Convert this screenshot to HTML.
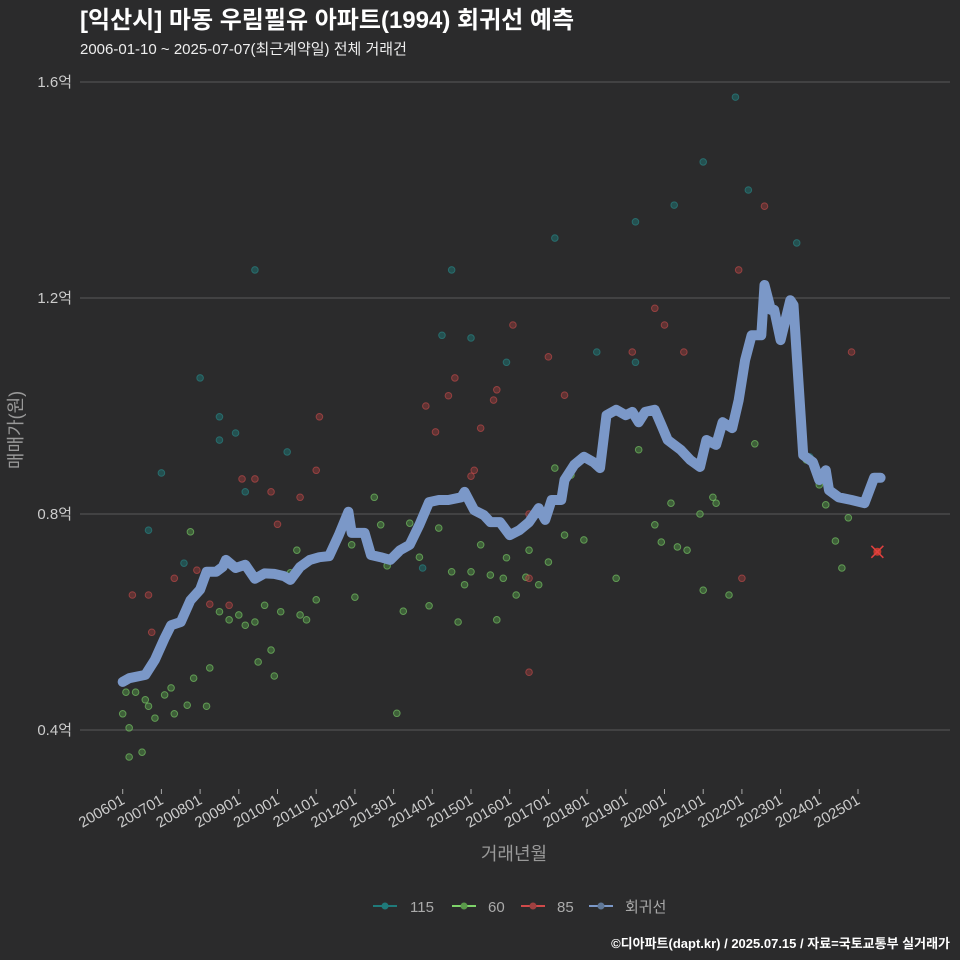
<!DOCTYPE html>
<html><head><meta charset="utf-8"><style>
html,body{margin:0;padding:0;width:960px;height:960px;overflow:hidden;background:#2b2b2c;font-family:"Liberation Sans","Noto Sans CJK KR",sans-serif;}
svg{display:block;}
svg text{font-family:"Liberation Sans","Noto Sans CJK KR",sans-serif;}
</style></head><body>
<svg id="c" width="960" height="960">
<rect width="960" height="960" fill="#2b2b2c"/>
<text x="80" y="28" font-size="24" font-weight="bold" fill="#fff">[익산시] 마동 우림필유 아파트(1994) 회귀선 예측</text>
<text x="80" y="54" font-size="15" fill="#eee">2006-01-10 ~ 2025-07-07(최근계약일) 전체 거래건</text>
<g id="grid"></g><g id="pts"></g><g id="line"></g><g id="axes"></g>
<text transform="translate(22,430) rotate(-90)" text-anchor="middle" font-size="18" fill="#999">매매가(원)</text>
<text x="514" y="860" text-anchor="middle" font-size="18" fill="#999">거래년월</text>
<g font-size="15" fill="#aaa">
<g><line x1="373" y1="906" x2="397" y2="906" stroke="#1f7a7a" stroke-width="2"/><circle cx="385" cy="906" r="3.5" fill="#1f7a7a"/><text x="410" y="912">115</text></g>
<g><line x1="452" y1="906" x2="476" y2="906" stroke="#7ed36a" stroke-width="2"/><circle cx="464" cy="906" r="3.5" fill="#5a9a4a"/><text x="488" y="912">60</text></g>
<g><line x1="521" y1="906" x2="545" y2="906" stroke="#d04a4a" stroke-width="2"/><circle cx="533" cy="906" r="3.5" fill="#a04040"/><text x="557" y="912">85</text></g>
<g><line x1="589" y1="906" x2="613" y2="906" stroke="#7b98c8" stroke-width="2"/><circle cx="601" cy="906" r="3.5" fill="#607898"/><text x="625" y="912">회귀선</text></g>
</g>
<text x="950" y="948" text-anchor="end" font-size="13" font-weight="bold" fill="#fff">©디아파트(dapt.kr) / 2025.07.15 / 자료=국토교통부 실거래가</text>
</svg>
<script>
// month index since 2006-01, value in 억
const yTicks=[0.4,0.8,1.2,1.6];
const xTickLabels=['200601','200701','200801','200901','201001','201101','201201','201301','201401','201501','201601','201701','201801','201901','202001','202101','202201','202301','202401','202501'];
const s115M=[8,12,19,24,30,30,35,38,41,51,93,99,102,108,119,134,147,159,159,171,180,190,194,209,213];
const s115V=[0.770,0.876,0.709,1.052,0.980,0.937,0.950,0.841,1.252,0.915,0.700,1.131,1.252,1.126,1.081,1.311,1.100,1.081,1.341,1.372,1.452,1.572,1.400,1.302,0.906];
const s60M=[0,1,2,2,4,6,7,8,10,13,15,16,20,21,22,26,27,30,33,36,38,41,42,44,46,47,49,52,54,55,57,60,71,72,78,80,82,85,87,89,92,95,98,102,104,106,108,111,114,116,118,119,122,125,126,129,132,134,137,139,143,149,153,160,165,167,170,172,175,179,180,183,184,188,196,212,216,218,221,223,225];
const s60V=[0.430,0.470,0.404,0.350,0.470,0.359,0.456,0.444,0.422,0.465,0.478,0.430,0.446,0.767,0.496,0.444,0.515,0.619,0.604,0.613,0.594,0.600,0.526,0.631,0.548,0.500,0.619,0.691,0.733,0.613,0.604,0.641,0.743,0.646,0.831,0.780,0.704,0.431,0.620,0.783,0.720,0.630,0.774,0.693,0.600,0.669,0.693,0.743,0.687,0.604,0.681,0.719,0.650,0.683,0.733,0.669,0.711,0.885,0.761,0.872,0.752,0.931,0.681,0.919,0.780,0.748,0.820,0.739,0.733,0.800,0.659,0.831,0.820,0.650,0.930,0.900,0.854,0.817,0.750,0.700,0.793];
const s85M=[3,8,9,16,23,27,33,37,41,46,48,55,60,61,94,97,101,103,108,109,111,115,116,121,126,126,126,132,137,158,165,168,174,192,191,199,226];
const s85V=[0.650,0.650,0.581,0.681,0.696,0.633,0.631,0.865,0.865,0.841,0.781,0.831,0.881,0.980,1.000,0.952,1.019,1.052,0.870,0.881,0.959,1.011,1.030,1.150,0.800,0.681,0.507,1.091,1.020,1.100,1.181,1.150,1.100,0.681,1.252,1.370,1.100];
const regM=[0,2,7,10,13,15,18,21,24,26,29,31,32,35,38,41,44,47,50,52,55,58,61,64,67,70,71,75,77,80,83,86,89,92,95,98,101,105,106,109,112,114,117,120,123,126,129,131,133,136,137,140,143,146,148,150,153,156,158,160,162,165,167,169,173,176,179,181,184,186,189,191,193,195,198,199,201,202,204,207,208,211,214,216,218,219,222,226,230,233,235];
const regV=[0.489,0.496,0.502,0.53,0.57,0.594,0.6,0.64,0.66,0.693,0.693,0.702,0.715,0.70,0.706,0.68,0.69,0.689,0.685,0.678,0.702,0.715,0.72,0.722,0.761,0.804,0.765,0.765,0.724,0.72,0.715,0.733,0.743,0.78,0.822,0.826,0.826,0.831,0.841,0.807,0.798,0.785,0.785,0.761,0.77,0.785,0.811,0.789,0.826,0.826,0.863,0.891,0.906,0.896,0.885,0.983,0.993,0.983,0.989,0.970,0.989,0.993,0.965,0.937,0.919,0.9,0.887,0.937,0.928,0.970,0.959,1.011,1.085,1.131,1.131,1.224,1.178,1.178,1.122,1.196,1.187,0.909,0.896,0.863,0.881,0.844,0.831,0.826,0.820,0.867,0.867];
const lastM=[234], lastV=[0.730];

const NS='http://www.w3.org/2000/svg';
const X=m=>122.7+m*38.7/12;
const Y=v=>514-(v-0.8)*540;
function mk(tag,attrs,parent){const e=document.createElementNS(NS,tag);for(const k in attrs)e.setAttribute(k,attrs[k]);document.getElementById(parent).appendChild(e);return e;}
yTicks.forEach(t=>{
  const l=mk('line',{x1:80,x2:950,y1:Y(t),y2:Y(t),stroke:'#5a5a5a','stroke-width':1},'grid');
  
  
  const tx=mk('text',{x:72,y:Y(t)+5,'text-anchor':'end','font-size':15,fill:'#ccc'},'axes');
  tx.textContent=t.toFixed(1)+'억';
  
  
});
xTickLabels.forEach((lab,i)=>{
  const x=X(i*12);
  const tk=mk('line',{x1:x,x2:x,y1:789,y2:794,stroke:'#aaa'},'axes');
  
  
  const tx=mk('text',{x:x+3,y:803,'text-anchor':'end','font-size':15,fill:'#ccc',transform:`rotate(-30 ${x+3} 803)`},'axes');
  tx.textContent=lab;
  
  
});
function scatter(M,V,fill,stroke,name){
  M.forEach((m,i)=>{
    const c=mk('circle',{cx:X(m),cy:Y(V[i]),r:3.3,fill:fill,'fill-opacity':0.55,stroke:stroke,'stroke-opacity':0.6,'stroke-width':1},'pts');
    
    
  });
}
scatter(s115M,s115V,'#1f6f6f','#2a8a8a','point-115');
scatter(s60M,s60V,'#4f8a45','#7ed36a','point-60');
scatter(s85M,s85V,'#8a3a3a','#c94c4c','point-85');
const d=regM.map((m,i)=>(i?'L':'M')+X(m).toFixed(1)+','+Y(regV[i]).toFixed(1)).join('');
const p=mk('path',{d:d,fill:'none',stroke:'#7b98c8','stroke-width':10,'stroke-linejoin':'round','stroke-linecap':'round'},'line');


lastM.forEach((m,i)=>{
  const x=X(m),y=Y(lastV[i]);
  const g=mk('g',{},'pts');
  
  
  const c=document.createElementNS(NS,'circle');c.setAttribute('cx',x);c.setAttribute('cy',y);c.setAttribute('r',4);c.setAttribute('fill','#c0392b');g.appendChild(c);
  [[-6,-6,6,6],[-6,6,6,-6]].forEach(a=>{const l=document.createElementNS(NS,'line');l.setAttribute('x1',x+a[0]);l.setAttribute('y1',y+a[1]);l.setAttribute('x2',x+a[2]);l.setAttribute('y2',y+a[3]);l.setAttribute('stroke','#e04040');l.setAttribute('stroke-width',1.5);g.appendChild(l);});
});
</script>
</body></html>
